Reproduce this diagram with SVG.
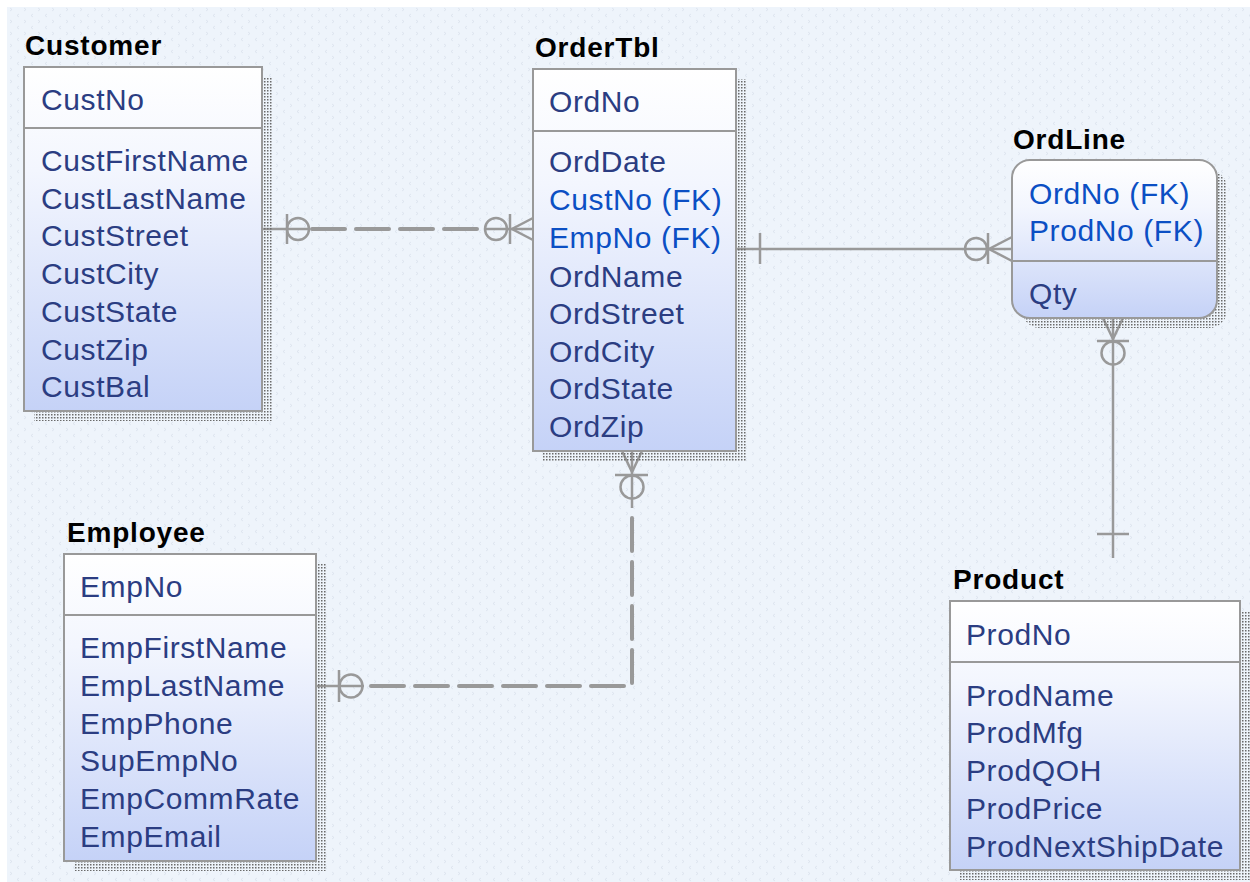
<svg xmlns="http://www.w3.org/2000/svg" width="1250" height="882" viewBox="0 0 1250 882">
<defs>
<pattern id="bgp" width="14" height="12" patternUnits="userSpaceOnUse">
<rect width="14" height="12" fill="#eef4fb"/>
<path d="M5,2 L3,3.5 L5,5 M10,8 L12,9.5 L10,11" fill="none" stroke="#d9e1ec" stroke-width="0.8"/>
</pattern>
<pattern id="dots" width="3" height="3" patternUnits="userSpaceOnUse">
<rect width="1.5" height="1.5" fill="#6a6a6a"/>
</pattern>
<linearGradient id="g" x1="0" y1="0" x2="0" y2="1">
<stop offset="0" stop-color="#ffffff"/>
<stop offset="0.3" stop-color="#f3f6fe"/>
<stop offset="1" stop-color="#c5d2f7"/>
</linearGradient>
</defs>
<style>
.box{fill:url(#g);stroke:#999999;stroke-width:2}
.sh{fill:url(#dots)}
.div{stroke:#999999;stroke-width:2}
.title{font-family:"Liberation Sans",Arial,sans-serif;font-weight:bold;font-size:28px;letter-spacing:0.8px;fill:#000}
.at{font-family:"Liberation Sans",Arial,sans-serif;font-size:30px;letter-spacing:0.6px;fill:#2b3d82}
.fk{fill:#0b4fc4}
.ln{stroke:#999999;stroke-width:2.5;fill:none}
.dash{stroke:#999999;stroke-width:4;fill:none;stroke-dasharray:33 11;stroke-linecap:round}
.c{stroke:#999999;stroke-width:2.5;fill:none}
</style>
<rect x="7" y="7" width="1243" height="875" fill="url(#bgp)"/>

<g id="connectors">
<!-- Customer - OrderTbl -->
<line class="ln" x1="262" y1="229" x2="310" y2="229"/>
<line class="dash" x1="312" y1="229" x2="484" y2="229"/>
<line class="ln" x1="485" y1="229" x2="533" y2="229"/>
<line class="ln" x1="287" y1="214" x2="287" y2="244"/>
<circle class="c" cx="298" cy="229" r="11"/>
<circle class="c" cx="496" cy="229" r="11"/>
<line class="ln" x1="510" y1="214" x2="510" y2="244"/>
<path class="ln" d="M533,218 L512,229 L533,240"/>
<!-- OrderTbl - OrdLine -->
<line class="ln" x1="736" y1="249" x2="1012" y2="249"/>
<line class="ln" x1="760" y1="233" x2="760" y2="264"/>
<circle class="c" cx="976" cy="249" r="11"/>
<line class="ln" x1="988" y1="233" x2="988" y2="264"/>
<path class="ln" d="M1012,237 L989,249 L1012,261"/>
<!-- OrdLine - Product -->
<line class="ln" x1="1113" y1="318" x2="1113" y2="558"/>
<path class="ln" d="M1103,318 L1113,339 L1123,318"/>
<line class="ln" x1="1097" y1="341" x2="1129" y2="341"/>
<circle class="c" cx="1113" cy="353" r="11.5"/>
<line class="ln" x1="1097" y1="534" x2="1129" y2="534"/>
<!-- OrderTbl - Employee -->
<line class="ln" x1="632" y1="451" x2="632" y2="508"/>
<path class="ln" d="M622,451 L632,472 L642,451"/>
<line class="ln" x1="615" y1="475" x2="648" y2="475"/>
<circle class="c" cx="632" cy="487" r="11.5"/>
<path class="dash" d="M632,518 V686 H364"/>
<line class="ln" x1="316" y1="686" x2="364" y2="686"/>
<line class="ln" x1="339" y1="670" x2="339" y2="702"/>
<circle class="c" cx="351" cy="686" r="11.5"/>
</g>

<g id="Customer">
<rect class="sh" x="34" y="77" width="238" height="344"/>
<rect class="box" x="24" y="67" width="238" height="344"/>
<line class="div" x1="24" y1="128" x2="262" y2="128"/>
<text class="title" x="25" y="55">Customer</text>
<text class="at" x="41" y="110">CustNo</text>
<text class="at" x="41" y="171">CustFirstName</text>
<text class="at" x="41" y="209">CustLastName</text>
<text class="at" x="41" y="246">CustStreet</text>
<text class="at" x="41" y="284">CustCity</text>
<text class="at" x="41" y="322">CustState</text>
<text class="at" x="41" y="360">CustZip</text>
<text class="at" x="41" y="397">CustBal</text>
</g>

<g id="OrderTbl">
<rect class="sh" x="543" y="79" width="203" height="382"/>
<rect class="box" x="533" y="69" width="203" height="382"/>
<line class="div" x1="533" y1="131" x2="736" y2="131"/>
<text class="title" x="535" y="57">OrderTbl</text>
<text class="at" x="549" y="112">OrdNo</text>
<text class="at" x="549" y="172">OrdDate</text>
<text class="at fk" x="549" y="210">CustNo (FK)</text>
<text class="at fk" x="549" y="248">EmpNo (FK)</text>
<text class="at" x="549" y="287">OrdName</text>
<text class="at" x="549" y="324">OrdStreet</text>
<text class="at" x="549" y="362">OrdCity</text>
<text class="at" x="549" y="399">OrdState</text>
<text class="at" x="549" y="437">OrdZip</text>
</g>

<g id="OrdLine">
<rect class="sh" x="1022" y="170" width="205" height="158" rx="18"/>
<rect class="box" x="1012" y="160" width="205" height="158" rx="18"/>
<line class="div" x1="1012" y1="261" x2="1217" y2="261"/>
<text class="title" x="1013" y="149">OrdLine</text>
<text class="at fk" x="1029" y="204">OrdNo (FK)</text>
<text class="at fk" x="1029" y="241">ProdNo (FK)</text>
<text class="at" x="1029" y="304">Qty</text>
</g>

<g id="Employee">
<rect class="sh" x="74" y="564" width="252" height="307"/>
<rect class="box" x="64" y="554" width="252" height="307"/>
<line class="div" x1="64" y1="615" x2="316" y2="615"/>
<text class="title" x="67" y="542">Employee</text>
<text class="at" x="80" y="597">EmpNo</text>
<text class="at" x="80" y="658">EmpFirstName</text>
<text class="at" x="80" y="696">EmpLastName</text>
<text class="at" x="80" y="734">EmpPhone</text>
<text class="at" x="80" y="771">SupEmpNo</text>
<text class="at" x="80" y="809">EmpCommRate</text>
<text class="at" x="80" y="847">EmpEmail</text>
</g>

<g id="Product">
<rect class="sh" x="960" y="611" width="290" height="269"/>
<rect class="box" x="950" y="601" width="290" height="269"/>
<line class="div" x1="950" y1="662" x2="1240" y2="662"/>
<text class="title" x="953" y="589">Product</text>
<text class="at" x="966" y="645">ProdNo</text>
<text class="at" x="966" y="706">ProdName</text>
<text class="at" x="966" y="743">ProdMfg</text>
<text class="at" x="966" y="781">ProdQOH</text>
<text class="at" x="966" y="819">ProdPrice</text>
<text class="at" x="966" y="857">ProdNextShipDate</text>
</g>
</svg>
